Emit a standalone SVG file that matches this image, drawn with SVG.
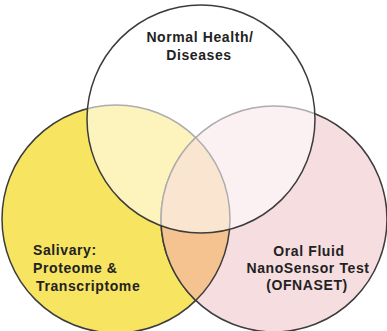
<svg xmlns="http://www.w3.org/2000/svg" width="387" height="331" viewBox="0 0 387 331">
<style>
.ring{stroke:#3c3c3c;stroke-width:1.5}
.lbl{font-family:"Liberation Sans",Arial,sans-serif;font-weight:bold;font-size:14px;fill:#222;letter-spacing:0.6px}
.mid{text-anchor:middle}
</style>
<rect width="387" height="331" fill="#ffffff"/>
<g id="salivary">
<circle class="ring" cx="116" cy="219" r="114" fill="#f7e461"/>
</g>
<g id="ofnaset">
<circle class="ring" cx="274" cy="219" r="113" fill="#f6dde0"/>
</g>
<g id="overlap-salivary-ofnaset">
<path class="ring" d="M195.7,137.5 A114,114 0 0 1 195.7,300.5 A113,113 0 0 1 195.7,137.5 Z" fill="#f4c38f"/>
</g>
<g id="normal-health">
<circle class="ring" cx="201" cy="119" r="114" fill="#ffffff" fill-opacity="0.58"/>
<text class="lbl mid" x="200" y="42">Normal Health/</text>
<text class="lbl mid" x="199" y="60">Diseases</text>
</g>
<g id="salivary-label">
<text class="lbl" x="33" y="255">Salivary:</text>
<text class="lbl" x="33" y="273">Proteome &amp;</text>
<text class="lbl" x="36" y="291">Transcriptome</text>
</g>
<g id="ofnaset-label">
<text class="lbl mid" x="309" y="256">Oral Fluid</text>
<text class="lbl mid" x="308" y="273">NanoSensor Test</text>
<text class="lbl mid" x="307" y="290">(OFNASET)</text>
</g>
</svg>
